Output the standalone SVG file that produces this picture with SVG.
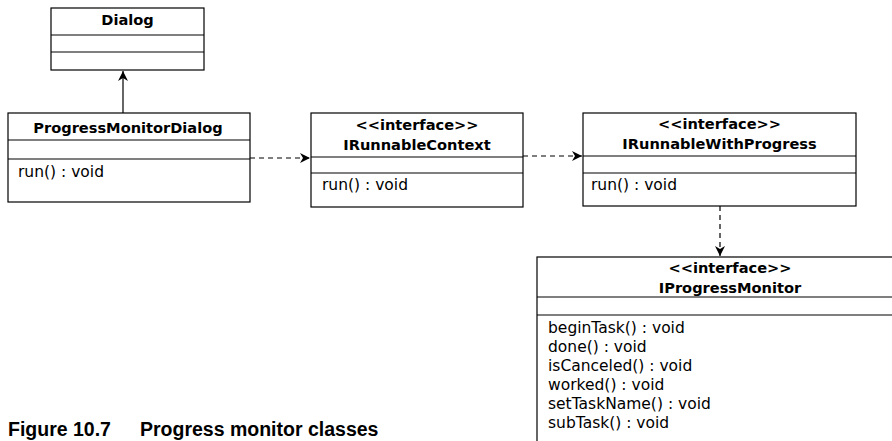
<svg xmlns="http://www.w3.org/2000/svg" width="892" height="441" viewBox="0 0 892 441">
<defs>
<marker id="ah" viewBox="0 0 10 10" refX="10" refY="5" markerWidth="10" markerHeight="10" markerUnits="userSpaceOnUse" orient="auto">
<path d="M0,0 L10,5 L0,10 L3,5 Z" fill="#000"/>
</marker>
</defs>
<style>
.box{fill:#fff;stroke:#000;stroke-width:1.2}
.div{stroke:#000;stroke-width:1.2}
.t{font-family:"DejaVu Sans",sans-serif;font-size:14.6px;font-weight:bold;fill:#000;text-anchor:middle}
.m{font-family:"DejaVu Sans",sans-serif;font-size:15.5px;fill:#000}
.c{stroke:#000;stroke-width:1.2;fill:none}
.d{stroke-dasharray:5,4}
.cap{font-family:"Liberation Sans",Arial,sans-serif;font-size:19.5px;font-weight:bold;fill:#000}
</style>
<g id="Dialog">
<rect class="box" x="51" y="8" width="153" height="62"/>
<line class="div" x1="51" y1="35" x2="204" y2="35"/>
<line class="div" x1="51" y1="52" x2="204" y2="52"/>
<text class="t" x="127.5" y="25">Dialog</text>
</g>
<g id="ProgressMonitorDialog">
<rect class="box" x="8" y="113" width="242" height="89"/>
<line class="div" x1="8" y1="140" x2="250" y2="140"/>
<line class="div" x1="8" y1="159" x2="250" y2="159"/>
<text class="t" x="128" y="133">ProgressMonitorDialog</text>
<text class="m" x="18" y="177">run() : void</text>
</g>
<g id="IRunnableContext">
<rect class="box" x="311" y="113" width="212" height="94"/>
<line class="div" x1="311" y1="157" x2="523" y2="157"/>
<line class="div" x1="311" y1="173" x2="523" y2="173"/>
<text class="t" x="417" y="130">&lt;&lt;interface&gt;&gt;</text>
<text class="t" x="417" y="150">IRunnableContext</text>
<text class="m" x="322" y="190">run() : void</text>
</g>
<g id="IRunnableWithProgress">
<rect class="box" x="583" y="113" width="273" height="93"/>
<line class="div" x1="583" y1="156" x2="856" y2="156"/>
<line class="div" x1="583" y1="173" x2="856" y2="173"/>
<text class="t" x="719.5" y="129">&lt;&lt;interface&gt;&gt;</text>
<text class="t" x="719.5" y="149">IRunnableWithProgress</text>
<text class="m" x="591" y="190">run() : void</text>
</g>
<g id="IProgressMonitor">
<rect class="box" x="537" y="257" width="386" height="200"/>
<line class="div" x1="537" y1="297" x2="923" y2="297"/>
<line class="div" x1="537" y1="315" x2="923" y2="315"/>
<text class="t" x="730" y="273">&lt;&lt;interface&gt;&gt;</text>
<text class="t" x="730" y="293">IProgressMonitor</text>
<text class="m" x="548" y="333">beginTask() : void</text>
<text class="m" x="548" y="352">done() : void</text>
<text class="m" x="548" y="371">isCanceled() : void</text>
<text class="m" x="548" y="390">worked() : void</text>
<text class="m" x="548" y="409">setTaskName() : void</text>
<text class="m" x="548" y="428">subTask() : void</text>
</g>
<g id="connectors">
<line class="c" x1="123" y1="113" x2="123" y2="71" marker-end="url(#ah)"/>
<line class="c d" x1="250" y1="158" x2="310" y2="158" marker-end="url(#ah)"/>
<line class="c d" x1="523" y1="156" x2="582" y2="156" marker-end="url(#ah)"/>
<line class="c d" x1="720" y1="206" x2="720" y2="256" marker-end="url(#ah)"/>
</g>
<text class="cap" x="8" y="436">Figure 10.7<tspan x="140">Progress monitor classes</tspan></text>
</svg>
